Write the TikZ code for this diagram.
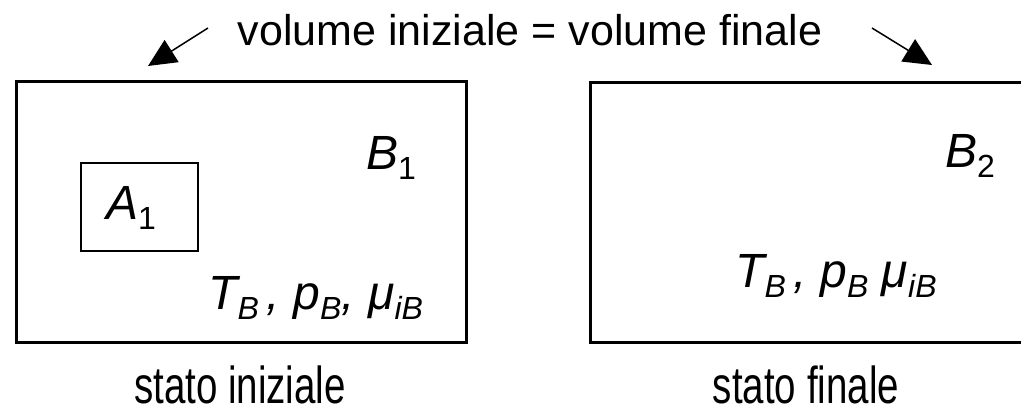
\documentclass[tikz,border=0pt]{standalone}
\usepackage{fontspec}
\setmainfont{Liberation Sans}
\newfontfamily\condsf[FakeStretch=0.74]{Liberation Sans}
\usetikzlibrary{arrows.meta}

\tikzset{
  bigbox/.style={line width=3pt},
  smallbox/.style={line width=1.3pt},
  var/.style={anchor=base west,inner sep=0pt,font=\fontsize{48}{50}\selectfont\itshape},
  caption/.style={anchor=base,inner sep=0pt,font=\fontsize{52}{54}\selectfont\condsf},
  hint/.style={-{Triangle[length=28pt,width=26pt]},line width=1.5pt}
}
\newcommand{\sub}[1]{\raisebox{-0.22em}{\fontsize{32}{32}\selectfont #1}}

\begin{document}
\begin{tikzpicture}[x=1pt, y=-1pt]
  \useasboundingbox (0,0) rectangle (1021,413);
  \clip (0,0) rectangle (1021,413);
  % the two containers
  \draw[bigbox] (16,81) rectangle (466,342);
  \draw[bigbox] (590,82) rectangle (1030,342);
  \draw[smallbox] (81,163) rectangle (198,251);
  % labels inside
  \node[var] (a1) at (106,219) {A\sub{\upshape 1}};
  \node[var] (b1) at (366,169) {B\sub{\upshape 1}};
  \node[var] (b2) at (945,167) {B\sub{\upshape 2}};
  \node[var] (s1) at (208,309) {T\sub{B}\,, p\sub{B}, μ\sub{iB}};
  \node[var] (s2) at (735,287) {T\sub{B}\,, p\sub{B} μ\sub{iB}};
  % title and captions
  \node[inner sep=0pt,font=\fontsize{43}{46}\selectfont] (vol) at (530,30) {volume iniziale = volume finale};
  \node[caption] (ini) at (240,403) {stato iniziale};
  \node[caption] (fin) at (806,403) {stato finale};
  \coordinate (l0) at (208,28);
  \coordinate (l1) at (148,66);
  \coordinate (r0) at (872,28);
  \coordinate (r1) at (932,65);
  \draw[hint] (l0) -- (l1);
  \draw[hint] (r0) -- (r1);
\end{tikzpicture}
\end{document}
